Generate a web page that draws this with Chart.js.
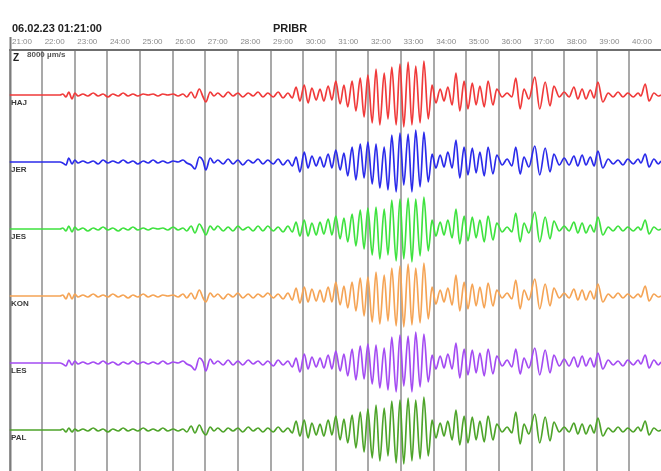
<!DOCTYPE html>
<html>
<head>
<meta charset="utf-8">
<script src="https://cdn.jsdelivr.net/npm/chart.js@4/dist/chart.umd.min.js"></script>
<style>
  html, body { margin: 0; padding: 0; background: #ffffff; }
  #wrap { width: 661px; height: 471px; position: relative; }
</style>
</head>
<body>
<div id="wrap"><canvas id="seis" width="661" height="471"></canvas></div>
<script>
// Record header
const recordStart = '06.02.23 01:21:00';
const networkName = 'PRIBR';
const componentName = 'Z';
const scaleNote = '8000 µm/s';

// Minute marks along the time axis (one per minute from 01:21)
const minuteLabels = ['21:00','22:00','23:00','24:00','25:00','26:00','27:00','28:00','29:00','30:00',
                      '31:00','32:00','33:00','34:00','35:00','36:00','37:00','38:00','39:00','40:00'];

const stations = ['HAJ', 'JER', 'JES', 'KON', 'LES', 'PAL'];
const stationColors = ['#f03a3a', '#2b2bea', '#3fe23f', '#f5a455', '#a44cf2', '#4ea42a'];

// Sample times in seconds after 01:21:00 (turning points of the traces)
const sampleTimes = [0,93,98,104,109,115,120,126,
  135,144,154,163,172,181,190,200,209,218,227,236,246,255,264,273,282,291,301,310,
  319,326,334,341,349,356,361,369,376,
  383,393,402,411,420,429,439,448,457,466,475,485,494,503,512,
  520,527,534,542,549,556,564,571,578,586,
  593,600,608,615,622,630,637,645,652,659,
  667,674,681,689,696,703,711,718,725,733,
  740,747,755,762,770,777,784,792,799,806,
  814,821,828,836,843,851,858,865,873,880,
  889,896,906,915,924,931,939,946,955,966,
  975,985,994,1001,1011,1020,1029,1038,1045,1053,
  1060,1068,1075,1082,1091,1101,1110,1119,1128,1137,
  1147,1156,1161,1169,1176,1185,1193,1198];

// Ground velocity per station, in trace units (8000 µm/s full scale)
const hajValues = [0,0,1,-2,3,-4,2,-1,
  1,-1,2,-1,1,-2,1,-1,2,-1,1,-1,1,0,1,-1,1,0,1,-1,
  1,-2,3,-3,6,-2,-7,3,-1,
  2,-2,3,-1,2,-2,2,-1,3,-2,2,-2,3,-3,2,
  -3,8,-6,10,-8,7,-5,6,-6,9,
  -5,14,-9,10,-12,14,-16,17,-22,20,
  -28,26,-30,22,-24,28,-30,31,-32,33,
  -30,29,-28,34,-24,10,-8,6,-6,8,
  -10,22,-16,14,-14,12,-10,9,-12,14,
  -10,6,-2,2,-2,17,-14,6,-4,18,
  -14,13,-11,9,-2,3,-2,8,-4,6,
  -4,5,-3,13,-7,2,-2,3,-2,2,
  -2,2,-1,11,-6,2,-1,0];

const jerValues = [0,0,-1,-3,4,-2,2,-1,
  1,-1,1,-2,2,-1,1,-1,2,-1,1,-2,1,-1,2,-1,1,-1,1,0,
  2,-1,-3,-7,5,1,-8,4,-1,
  2,-2,3,-2,2,-3,2,-1,3,-2,2,-2,3,-3,2,
  -4,5,-10,10,-6,6,-4,5,-5,8,
  -6,12,-8,9,-14,15,-18,18,-16,20,
  -22,18,-26,15,-28,27,-30,29,-23,28,
  -30,32,-25,30,-20,8,-6,7,-5,10,
  -6,22,-16,15,-13,14,-11,10,-14,15,
  -12,7,-3,3,-4,15,-12,5,-5,16,
  -13,14,-10,8,-3,4,-3,6,-4,7,
  -3,5,-4,11,-6,3,-2,2,-3,3,
  -2,3,-1,8,-5,3,-2,1];

const jesValues = [0,0,1,-2,3,-3,2,-1,
  1,-2,1,-1,2,-1,1,-2,1,-1,2,-1,1,-1,1,0,1,-1,2,-1,
  1,-2,3,-4,5,-1,-6,3,-1,
  3,-2,2,-2,3,-1,2,-2,3,-2,3,-2,2,-3,3,
  -3,7,-7,9,-7,6,-6,7,-5,10,
  -6,13,-10,11,-13,15,-17,19,-20,21,
  -26,22,-30,20,-26,29,-32,30,-30,31,
  -33,30,-27,32,-22,9,-7,7,-6,9,
  -9,20,-15,13,-12,12,-9,9,-13,13,
  -11,6,-3,2,-3,16,-13,6,-4,17,
  -13,12,-10,8,-2,3,-2,7,-4,6,
  -4,4,-3,12,-6,2,-2,3,-2,2,
  -2,2,-1,9,-5,2,-1,0];

const konValues = [0,0,1,-3,3,-3,2,-1,
  1,-1,2,-1,1,-1,2,-1,1,-2,1,-1,2,-1,1,-1,1,0,1,-1,
  2,-2,3,-3,6,-2,-6,3,-1,
  2,-3,2,-1,3,-2,2,-2,2,-1,3,-2,2,-3,3,
  -4,8,-7,9,-6,7,-5,6,-6,9,
  -6,14,-9,10,-12,14,-15,18,-20,19,
  -26,24,-28,21,-25,28,-30,30,-31,32,
  -29,28,-27,33,-23,9,-8,6,-6,8,
  -9,21,-15,14,-13,12,-10,9,-12,13,
  -10,6,-2,3,-3,16,-13,6,-4,17,
  -13,12,-10,8,-2,3,-2,7,-4,6,
  -4,5,-3,12,-6,2,-2,3,-2,2,
  -2,2,-1,10,-5,2,-1,0];

const lesValues = [0,0,-1,-3,3,-2,2,-1,
  1,-1,1,-1,2,-1,1,-2,1,-1,2,-1,1,-1,1,-1,2,-1,1,0,
  2,-1,-3,-7,5,1,-8,4,-1,
  2,-2,3,-2,2,-2,3,-1,2,-2,2,-3,3,-2,2,
  -4,5,-9,9,-6,6,-4,5,-5,8,
  -6,12,-8,9,-13,14,-17,17,-16,19,
  -21,18,-25,15,-27,26,-29,28,-23,27,
  -29,31,-24,29,-19,8,-6,7,-5,9,
  -6,20,-15,14,-12,13,-10,10,-13,14,
  -11,7,-3,3,-4,14,-11,5,-5,15,
  -12,13,-10,8,-3,4,-3,6,-4,7,
  -3,5,-4,10,-6,3,-2,2,-3,3,
  -2,3,-1,8,-5,3,-2,1];

const palValues = [0,0,1,-2,2,-2,1,-1,
  1,-1,2,-1,1,-2,1,-1,2,-1,1,-1,2,-1,1,-1,2,-1,1,-1,
  1,-2,4,-3,5,-2,-5,3,-1,
  2,-2,2,-1,2,-2,3,-1,2,-2,2,-2,3,-2,2,
  -3,9,-6,10,-8,7,-5,6,-6,10,
  -5,14,-10,11,-13,15,-18,18,-22,21,
  -28,25,-31,22,-26,29,-33,30,-34,32,
  -31,30,-29,33,-26,10,-8,7,-6,9,
  -10,20,-15,14,-13,13,-10,9,-12,14,
  -10,6,-2,3,-3,18,-14,6,-4,16,
  -13,13,-11,8,-2,3,-2,7,-4,6,
  -4,5,-3,12,-6,2,-2,3,-2,2,
  -2,3,-1,9,-5,2,-1,0];

const stationValues = [hajValues, jerValues, jesValues, konValues, lesValues, palValues];

// Vertical layout of the stacked traces (trace units, 0 = top of the plot)
const firstTraceOffset = 45;
const traceGap = 67;
const plotDepth = 421;
const baselineOf = k => -(firstTraceOffset + traceGap * k);

const datasets = stations.map((name, k) => ({
  label: name,
  data: sampleTimes.map((t, i) => ({ x: t, y: baselineOf(k) + stationValues[k][i] })),
  borderColor: stationColors[k],
  borderWidth: 1.7,
  pointRadius: 0,
  cubicInterpolationMode: 'monotone',
  fill: false
}));

const decorations = {
  id: 'decorations',
  beforeDatasetsDraw(chart) {
    const { ctx, chartArea } = chart;
    ctx.save();
    ctx.strokeStyle = '#7c7c7c';
    ctx.lineWidth = 2;
    ctx.beginPath();
    ctx.moveTo(chartArea.left + 1, 37);
    ctx.lineTo(chartArea.left + 1, chartArea.bottom);
    ctx.stroke();
    ctx.restore();
  },
  afterDraw(chart) {
    const { ctx, scales } = chart;
    ctx.save();
    ctx.textBaseline = 'middle';
    ctx.textAlign = 'left';
    ctx.fillStyle = '#222222';
    ctx.font = 'bold 11px "Liberation Sans", Arial, sans-serif';
    ctx.fillText(recordStart, 12, 29);
    ctx.fillText(networkName, 273, 29);
    ctx.font = 'bold 10px "Liberation Sans", Arial, sans-serif';
    ctx.fillText(componentName, 13, 58);
    ctx.font = 'bold 8px "Liberation Sans", Arial, sans-serif';
    ctx.fillStyle = '#555555';
    ctx.fillText(scaleNote, 27, 55);
    ctx.font = 'bold 8px "Liberation Sans", Arial, sans-serif';
    ctx.fillStyle = '#3a3a3a';
    stations.forEach((name, k) => {
      const y = scales.y.getPixelForValue(baselineOf(k));
      ctx.fillText(name, 11, y + 8);
    });
    ctx.restore();
  }
};

new Chart(document.getElementById('seis'), {
  type: 'line',
  data: { datasets },
  options: {
    responsive: false,
    animation: false,
    devicePixelRatio: 1,
    layout: { padding: { left: 9.5, top: 36, right: 0, bottom: 0 } },
    plugins: { legend: { display: false }, tooltip: { enabled: false } },
    scales: {
      x: {
        type: 'linear',
        position: 'top',
        min: 0,
        max: 1198,
        afterBuildTicks(scale) {
          scale.ticks = minuteLabels.map((_, i) => ({ value: i * 60 }));
        },
        afterFit(scale) { scale.height = 14; },
        ticks: {
          align: 'start',
          labelOffset: 2.5,
          padding: 3,
          maxRotation: 0,
          autoSkip: false,
          color: '#8a8a8a',
          font: { family: '"Liberation Sans", Arial, sans-serif', size: 8 },
          callback: (v, i) => minuteLabels[i]
        },
        grid: { color: '#a9a9a9', lineWidth: 2, drawTicks: false },
        border: { display: true, color: '#6f6f6f', width: 2 }
      },
      y: {
        type: 'linear',
        display: false,
        min: -plotDepth,
        max: 0
      }
    }
  },
  plugins: [decorations]
});
</script>
</body>
</html>
